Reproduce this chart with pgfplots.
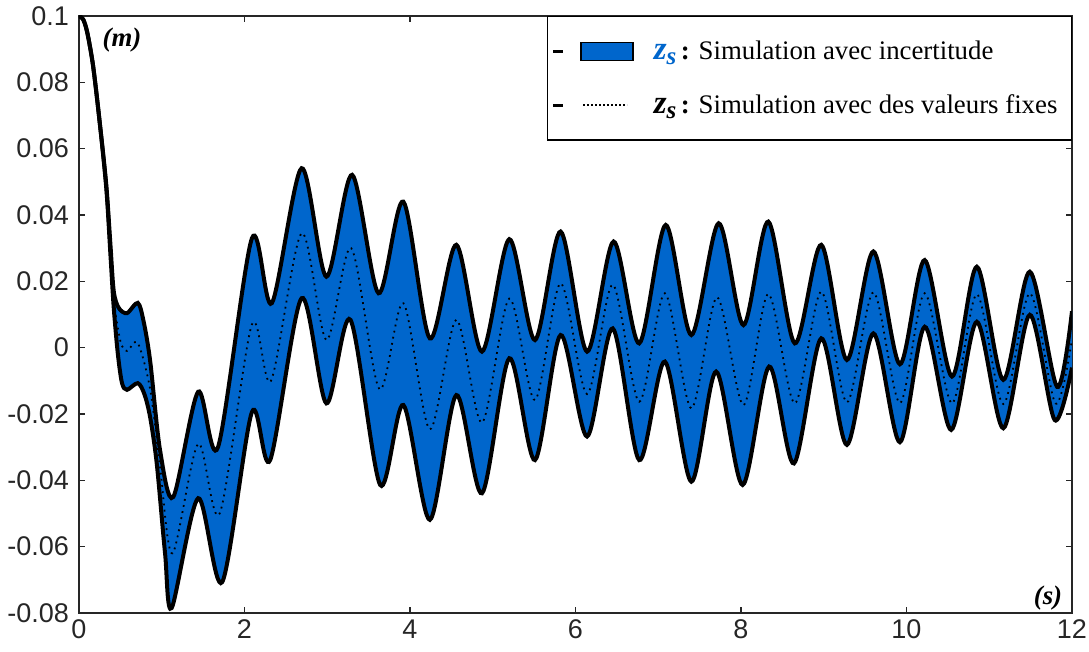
\documentclass[border=0pt]{standalone}
\usepackage{fontspec}
\setmainfont{Liberation Sans}
\newfontfamily\tnr{Liberation Serif}
\usepackage{pgfplots}
\pgfplotsset{compat=1.18}
\usepgfplotslibrary{fillbetween}
\definecolor{zblue}{RGB}{0,102,204}
\definecolor{axgray}{RGB}{38,38,38}
\newcommand{\zs}{{\bfseries\itshape\fontsize{16.5}{16}\selectfont z\raisebox{-2.5pt}{\fontsize{12.5}{12}\selectfont s}}}
\begin{document}
\begin{tikzpicture}
\begin{axis}[
  set layers,
  scale only axis, width=496.5pt, height=298.5pt,
  xmin=0, xmax=12, ymin=-0.08, ymax=0.1,
  xtick={0,2,4,6,8,10,12},
  xticklabels={0,2,4,6,8,10,12},
  ytick={-0.08,-0.06,-0.04,-0.02,0,0.02,0.04,0.06,0.08,0.1},
  yticklabels={-0.08,-0.06,-0.04,-0.02,0,0.02,0.04,0.06,0.08,0.1},
  scaled y ticks=false,
  tick align=inside, major tick length=3pt,
  axis line style={axgray, line width=0.6pt},
  tick style={axgray, line width=0.6pt},
  ticklabel style={font=\fontsize{13.5}{16}\selectfont, text=axgray},
  yticklabel style={xshift=-1.5pt},
  legend style={at={(rel axis cs:1,1)}, anchor=north east, draw=black, line width=0.6pt,
    inner xsep=2pt, inner ysep=10pt, row sep=12pt, fill=white,
    font=\tnr\fontsize{13.4}{16}\selectfont},
  legend cell align=left,
]
\addlegendimage{legend image code/.code={
  \draw[black, line width=1.6pt] (0pt,0pt) -- (5pt,0pt);
  \draw[black, line width=0.8pt, fill=zblue] (14pt,-4.5pt) rectangle (40pt,4.5pt);
  \path (48pt,0pt);}}
\addlegendentry{\textcolor{zblue}{\zs}\,\textbf{:} Simulation avec incertitude\hspace*{3pt}\mbox{}}
\addlegendimage{legend image code/.code={
  \draw[black, line width=1.6pt] (0pt,0pt) -- (5pt,0pt);
  \draw[black, line width=0.7pt, dash pattern=on 0.7pt off 1.3pt] (15pt,0pt) -- (37pt,0pt);
  \path (48pt,0pt);}}
\addlegendentry{\zs\,\textbf{:} Simulation avec des valeurs fixes\hspace*{3pt}\mbox{}}

% upper envelope
\addplot[name path=U, black, line width=2pt, smooth, forget plot] coordinates {
(0,0.100) (0.05,0.099) (0.10,0.095) (0.17,0.085) (0.25,0.068) (0.33,0.049) (0.38,0.031)
(0.42,0.017) (0.48,0.012) (0.58,0.0104) (0.71,0.0135) (0.78,0.008) (0.86,-0.004)
(0.98,-0.031) (1.14,-0.045) (1.44,-0.0133) (1.68,-0.030) (2.09,0.033) (2.33,0.0134)
(2.69,0.0541) (2.99,0.0214) (3.30,0.0521) (3.62,0.0164) (3.92,0.0440) (4.24,0.0028)
(4.56,0.031) (4.87,-0.0012) (5.20,0.0327) (5.51,0.0023) (5.82,0.035) (6.14,-0.0012)
(6.46,0.032) (6.77,0.0013) (7.09,0.037) (7.40,0.0038) (7.73,0.0375) (8.03,0.0068)
(8.33,0.038) (8.65,0.0013) (8.97,0.031) (9.28,-0.0037) (9.60,0.029) (9.92,-0.005)
(10.22,0.0264) (10.55,-0.0087) (10.85,0.0244) (11.17,-0.0097) (11.49,0.0229)
(11.82,-0.0118) (12,0.011)};
% lower envelope
\addplot[name path=L, black, line width=2pt, smooth, forget plot] coordinates {
(0,0.100) (0.05,0.099) (0.10,0.095) (0.17,0.085) (0.25,0.068) (0.33,0.048) (0.38,0.028)
(0.42,0.012) (0.47,-0.002) (0.52,-0.0107) (0.58,-0.0127) (0.71,-0.0107) (0.79,-0.014)
(0.86,-0.021) (0.94,-0.035) (1.04,-0.062) (1.12,-0.0785) (1.44,-0.0454) (1.73,-0.0707)
(2.09,-0.0194) (2.31,-0.0339) (2.69,0.0149) (2.99,-0.0168) (3.28,0.0084) (3.64,-0.0414)
(3.92,-0.0173) (4.24,-0.0519) (4.56,-0.0143) (4.87,-0.0439) (5.20,-0.0032) (5.51,-0.0339)
(5.82,0.0038) (6.14,-0.0268) (6.45,0.0058) (6.77,-0.0339) (7.08,-0.0042) (7.40,-0.0404)
(7.70,-0.0072) (8.02,-0.0414) (8.34,-0.0057) (8.64,-0.0349) (8.97,0.0028) (9.28,-0.0293)
(9.60,0.0043) (9.92,-0.0285) (10.22,0.0063) (10.54,-0.0248) (10.85,0.0078) (11.17,-0.0243)
(11.49,0.0099) (11.79,-0.0218) (12,-0.006)};
\addplot[zblue, forget plot] fill between[of=U and L];
% fixed-value simulation
\addplot[black, line width=0.9pt, dash pattern=on 0.9pt off 2.2pt, smooth, forget plot] coordinates {
(0,0.1) (0.05,0.099) (0.10,0.095) (0.17,0.085) (0.25,0.068) (0.33,0.0485) (0.38,0.0295)
(0.42,0.0145) (0.5,0.002) (0.58,-0.001) (0.71,0.0014) (0.86,-0.0125) (0.98,-0.036)
(1.13,-0.062) (1.44,-0.029) (1.70,-0.050) (2.09,0.007) (2.32,-0.010) (2.69,0.0345)
(2.99,0.0023) (3.29,0.030) (3.63,-0.0125) (3.92,0.0134) (4.24,-0.0246) (4.56,0.0084)
(4.87,-0.0226) (5.20,0.0148) (5.51,-0.0158) (5.82,0.0194) (6.14,-0.014) (6.45,0.019)
(6.77,-0.0163) (7.08,0.0164) (7.40,-0.0183) (7.71,0.0152) (8.03,-0.0173) (8.33,0.0162)
(8.65,-0.0168) (8.97,0.0169) (9.28,-0.0165) (9.60,0.0167) (9.92,-0.0167) (10.22,0.0164)
(10.55,-0.0168) (10.85,0.0161) (11.17,-0.017) (11.49,0.0164) (11.80,-0.0168) (12,0.0025)};

\node[font=\tnr\bfseries\itshape\fontsize{13.4}{16}\selectfont] at (axis cs:0.52,0.0928) {(m)};
\node[font=\tnr\bfseries\itshape\fontsize{13.4}{16}\selectfont] at (axis cs:11.71,-0.0755) {(s)};
\coordinate (bl) at (rel axis cs:0,0);
\coordinate (tr) at (rel axis cs:1,1);
\end{axis}
\pgfresetboundingbox
\path[use as bounding box] ([xshift=-39.5pt,yshift=-19.5pt]bl) rectangle ([xshift=8.5pt,yshift=8pt]tr);
\end{tikzpicture}
\end{document}
